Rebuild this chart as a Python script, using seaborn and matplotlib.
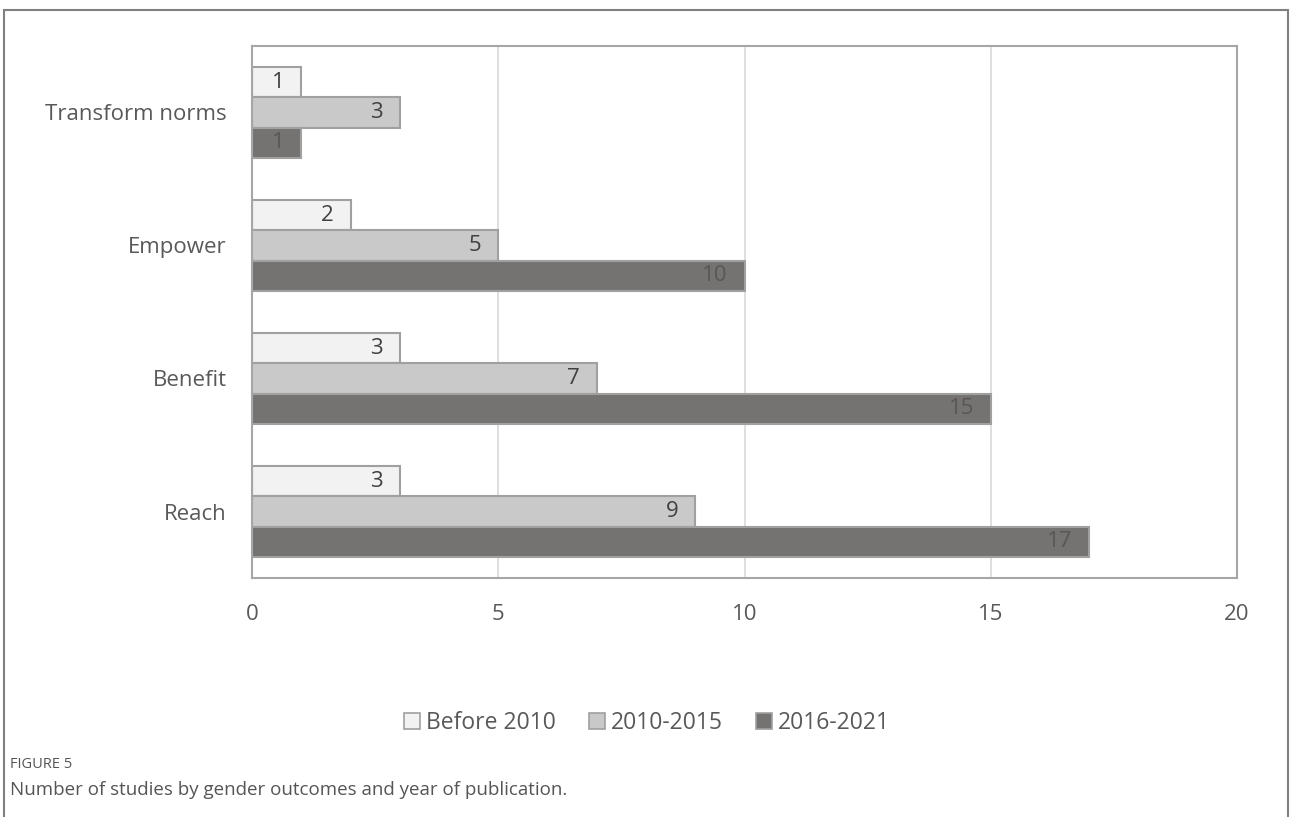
import matplotlib
matplotlib.use("Agg")
import matplotlib.pyplot as plt
import seaborn as sns
import pandas as pd
from matplotlib.patches import Rectangle

categories = ["Transform norms", "Empower", "Benefit", "Reach"]
periods = ["Before 2010", "2010-2015", "2016-2021"]
before_2010 = [1, 2, 3, 3]
y2010_2015 = [3, 5, 7, 9]
y2016_2021 = [1, 10, 15, 17]
x_ticks = [0, 5, 10, 15, 20]

colors = ["#F2F2F2", "#C9C9C9", "#767171"]
label_colors = ["#404040", "#404040", "#5A5656"]

rows = []
for per, vals in zip(periods, [before_2010, y2010_2015, y2016_2021]):
    for c, v in zip(categories, vals):
        rows.append({"category": c, "period": per, "count": v})
df = pd.DataFrame(rows)

sns.set_theme(style="white")
plt.rcParams["font.family"] = ["Open Sans", "DejaVu Sans"]

fig = plt.figure(figsize=(12.9, 8.17), dpi=100)
ax = fig.add_axes([252/1290, 239/817, 985/1290, 532/817])

sns.barplot(data=df, y="category", x="count", hue="period", order=categories,
            hue_order=periods, palette=colors, orient="h", width=0.68,
            edgecolor="#A0A0A0", linewidth=1.5, ax=ax, legend=True)

ax.set_xlim(0, 20)
ax.set_xticks(x_ticks)
ax.set_xlabel("")
ax.set_ylabel("")
ax.grid(axis="x", color="#D9D9D9", linewidth=1.2)
ax.set_axisbelow(True)
for s in ax.spines.values():
    s.set_visible(True)
    s.set_color("#A6A6A6")
    s.set_linewidth(1.5)
ax.tick_params(axis="y", length=0, pad=18, labelsize=16, labelcolor="#595959")
ax.tick_params(axis="x", length=0, pad=19, labelsize=16, labelcolor="#595959")

for cont, lc in zip(ax.containers, label_colors):
    for bar in cont:
        w = bar.get_width()
        yc = bar.get_y() + bar.get_height() / 2
        ax.annotate(f"{int(round(w))}", xy=(w, yc), xytext=(-12, 0),
                    textcoords="offset points", ha="right", va="center",
                    fontsize=16, color=lc)

leg = ax.get_legend()
handles = leg.legend_handles
leg.remove()
for h in handles:
    h.set_edgecolor("#A0A0A0")
    h.set_linewidth(1.2)
fig.legend(handles, periods, loc="center", bbox_to_anchor=(647/1290, 94/817),
           ncol=3, frameon=False, fontsize=16.5, labelcolor="#595959",
           handlelength=0.7, handleheight=0.7, handletextpad=0.25,
           columnspacing=1.45)

fig.patches.append(Rectangle((4/1290, -0.01), 1284/1290, (807/817) + 0.01,
                             transform=fig.transFigure, fill=False,
                             edgecolor="#808080", linewidth=1.5))

fig.text(10/1290, 1 - 765/817, "FIGURE 5", fontsize=10.5, color="#555555",
         va="center", ha="left")
fig.text(10/1290, 1 - 790/817,
         "Number of studies by gender outcomes and year of publication.",
         fontsize=13.5, color="#555555", va="center", ha="left")

fig.savefig("out.png", dpi=100)
